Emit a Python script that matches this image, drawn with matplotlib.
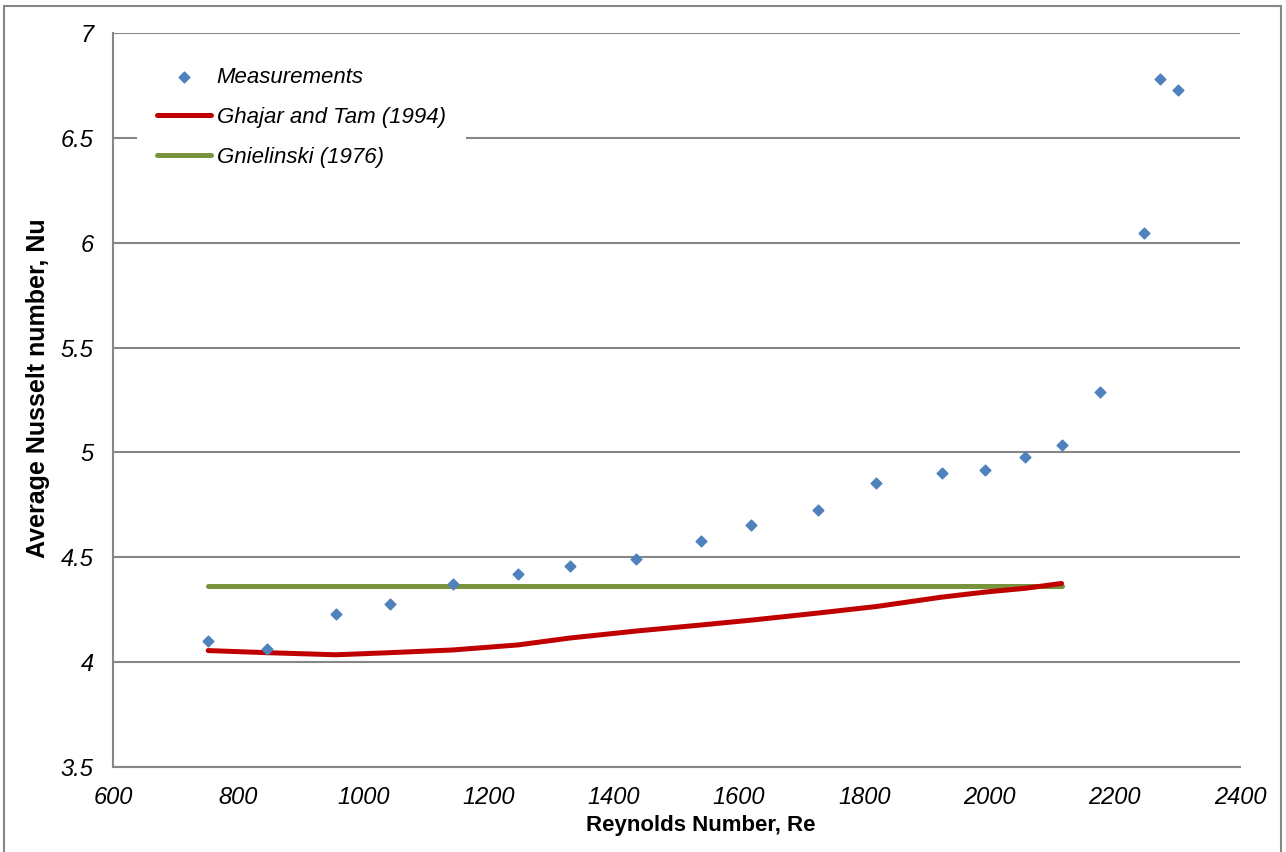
import matplotlib.pyplot as plt
from matplotlib.patches import Rectangle

# measured points
re_meas = [752, 846, 956, 1042, 1143, 1247, 1330, 1435, 1539, 1619,
           1726, 1819, 1924, 1993, 2057, 2115, 2176, 2247, 2272, 2301]
nu_meas = [4.10, 4.063, 4.229, 4.277, 4.372, 4.42, 4.458, 4.49, 4.578, 4.654,
           4.725, 4.854, 4.902, 4.916, 4.978, 5.035, 5.288, 6.046, 6.78, 6.728]

# correlations
re_corr = [752, 846, 956, 1042, 1143, 1247, 1330, 1435, 1539, 1619,
           1726, 1819, 1924, 1993, 2057, 2115]
nu_ghajar = [4.055, 4.045, 4.035, 4.045, 4.058, 4.082, 4.115, 4.148, 4.177, 4.20,
             4.234, 4.265, 4.31, 4.334, 4.352, 4.375]
nu_gniel = [4.364] * len(re_corr)

plt.rcParams['font.family'] = ['Liberation Sans', 'DejaVu Sans']

fig = plt.figure(figsize=(12.86, 8.52), dpi=100)
ax = fig.add_axes([0.0879, 0.0998, 0.8763, 0.8615])

ax.scatter(re_meas, nu_meas, marker='D', s=30, color='#4F81BD', zorder=3,
           label='Measurements')
ax.plot(re_corr, nu_ghajar, color='#C00000', lw=3.6, solid_capstyle='round',
        zorder=2, label='Ghajar and Tam (1994)')
ax.plot(re_corr, nu_gniel, color='#77933C', lw=3.6, solid_capstyle='round',
        zorder=1, label='Gnielinski (1976)')

ax.set_xlim(600, 2400)
ax.set_ylim(3.5, 7)
ax.set_xticks(range(600, 2401, 200))
ax.set_yticks([3.5, 4, 4.5, 5, 5.5, 6, 6.5, 7])
ax.set_yticklabels(['3.5', '4', '4.5', '5', '5.5', '6', '6.5', '7'])
ax.grid(axis='y', color='#868686', lw=1.5)
ax.set_axisbelow(True)
for s in ['top', 'right']:
    ax.spines[s].set_visible(False)
for s in ['left', 'bottom']:
    ax.spines[s].set_color('#868686')
    ax.spines[s].set_linewidth(1.5)
ax.tick_params(length=0, labelsize=17)
ax.tick_params(axis='y', pad=14)
ax.tick_params(axis='x', pad=14)
for t in ax.get_xticklabels() + ax.get_yticklabels():
    t.set_fontstyle('italic')

ax.set_xlabel('Reynolds Number, Re', fontsize=16, fontweight='bold')
ax.set_ylabel('Average Nusselt number, Nu', fontsize=18, fontweight='bold')
ax.xaxis.set_label_coords((701 - 113) / 1127, (767 - 826) / 734)
ax.yaxis.set_label_coords((38 - 113) / 1127, (767 - 388) / 734)
ax.xaxis.label.set_va('center')
ax.yaxis.label.set_va('center')

leg = ax.legend(loc='upper left', bbox_to_anchor=(0.0213, 0.981), frameon=True,
                framealpha=1, edgecolor='none', fancybox=False, borderaxespad=0,
                prop={'size': 16, 'style': 'italic'}, handlelength=2.43,
                handletextpad=0.25, labelspacing=0.85, borderpad=0.9)

fig.patches.append(Rectangle((0.003, -0.01), 0.993, 1.003, transform=fig.transFigure,
                             fill=False, edgecolor='#868686', lw=1.5))

fig.savefig('out.png', dpi=100)
